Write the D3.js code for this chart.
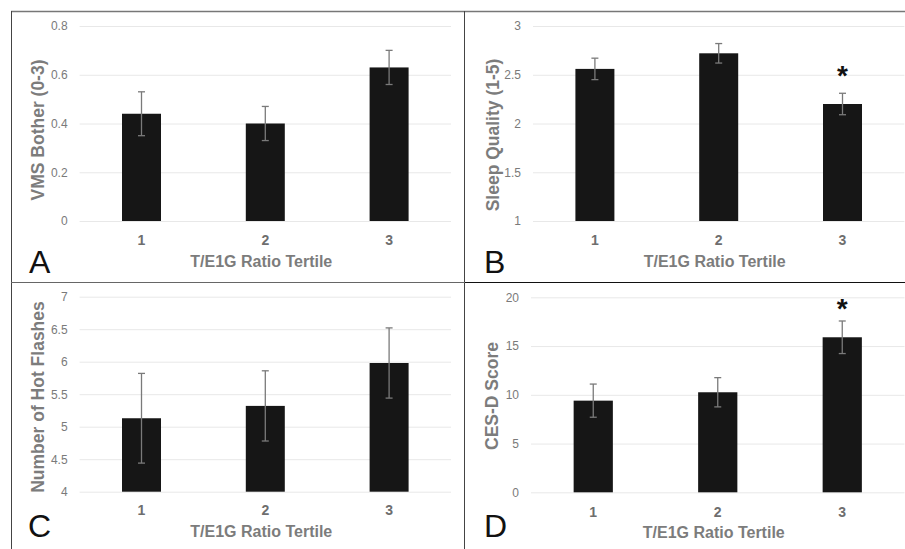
<!DOCTYPE html>
<html>
<head>
<meta charset="utf-8">
<script src="https://cdn.jsdelivr.net/npm/d3@7"></script>
<style>
  body { margin: 0; background: #fff; }
</style>
</head>
<body>
<div id="fig"></div>
<script>
"use strict";

// tertile categories
var tertiles = ["1", "2", "3"];

// A: VMS bother
var vmsMean = [0.44, 0.40, 0.63];
var vmsErr = [0.09, 0.07, 0.07];
var vmsTicks = [0, 0.2, 0.4, 0.6, 0.8];

// B: sleep quality
var sleepMean = [2.56, 2.72, 2.20];
var sleepErr = [0.11, 0.10, 0.11];
var sleepTicks = [1, 1.5, 2, 2.5, 3];
var sleepSig = [false, false, true];

// C: hot flashes
var hotMean = [5.13, 5.32, 5.98];
var hotErr = [0.69, 0.54, 0.54];
var hotTicks = [4, 4.5, 5, 5.5, 6, 6.5, 7];

// D: CES-D
var cesdMean = [9.4, 10.26, 15.9];
var cesdErr = [1.7, 1.5, 1.67];
var cesdTicks = [0, 5, 10, 15, 20];
var cesdSig = [false, false, true];

var font = "'Liberation Sans', Arial, Helvetica, sans-serif";

var svg = d3.select("#fig").append("svg")
    .attr("width", 905)
    .attr("height", 549);

// frame lines between panels
svg.append("line").attr("x1", 11).attr("x2", 905).attr("y1", 11.5).attr("y2", 11.5)
    .attr("stroke", "#777").attr("stroke-width", 1.5);
svg.append("line").attr("x1", 11.5).attr("x2", 11.5).attr("y1", 11).attr("y2", 549)
    .attr("stroke", "#444").attr("stroke-width", 1);
svg.append("line").attr("x1", 464.5).attr("x2", 464.5).attr("y1", 11).attr("y2", 549)
    .attr("stroke", "#444").attr("stroke-width", 1);
svg.append("line").attr("x1", 11).attr("x2", 465).attr("y1", 282.5).attr("y2", 282.5)
    .attr("stroke", "#666").attr("stroke-width", 1);
svg.append("line").attr("x1", 465).attr("x2", 905).attr("y1", 282.5).attr("y2", 282.5)
    .attr("stroke", "#111").attr("stroke-width", 1);

function drawPanel(cfg) {
    var g = svg.append("g");

    var x = d3.scaleBand().domain(tertiles)
        .range([cfg.x0, cfg.x1])
        .paddingInner(0.685).paddingOuter(0.3425);
    var y = d3.scaleLinear().domain([cfg.ticks[0], cfg.ticks[cfg.ticks.length - 1]])
        .range([cfg.y1, cfg.y0]);

    // gridlines + y tick labels
    g.append("g")
        .attr("transform", "translate(" + cfg.x0 + ",0)")
        .call(d3.axisLeft(y).tickValues(cfg.ticks).tickFormat(d3.format("~g"))
            .tickSizeInner(-(cfg.x1 - cfg.x0)).tickSizeOuter(0).tickPadding(12))
        .call(function (a) { a.select(".domain").remove(); })
        .call(function (a) { a.selectAll("line").attr("stroke", "#e8e8e8"); })
        .call(function (a) {
            a.selectAll("text").attr("fill", "#7a7a7a")
                .style("font-size", "12px").style("font-family", font);
        });

    // x tick labels
    g.append("g")
        .attr("transform", "translate(0," + cfg.y1 + ")")
        .call(d3.axisBottom(x).tickSize(0).tickPadding(cfg.tickBase - cfg.y1 - 10))
        .call(function (a) { a.select(".domain").remove(); })
        .call(function (a) {
            a.selectAll("text").attr("fill", "#6e6e6e")
                .style("font-size", "14px").style("font-weight", "bold").style("font-family", font);
        });

    var data = tertiles.map(function (t, i) {
        return { t: t, v: cfg.mean[i], e: cfg.err[i], sig: cfg.sig ? cfg.sig[i] : false };
    });

    // bars
    g.selectAll(".bar")
        .data(data)
        .enter().append("rect")
        .attr("class", "bar")
        .attr("x", function (d) { return x(d.t); })
        .attr("y", function (d) { return y(d.v); })
        .attr("width", x.bandwidth())
        .attr("height", function (d) { return y(cfg.ticks[0]) - y(d.v); })
        .attr("fill", "#161616");

    // error bars
    var eb = g.selectAll(".err").data(data).enter().append("g").attr("class", "err")
        .attr("stroke", "#7a7a7a").attr("stroke-width", 1.3);
    var cx = function (d) { return x(d.t) + x.bandwidth() / 2; };
    eb.append("line")
        .attr("x1", cx).attr("x2", cx)
        .attr("y1", function (d) { return y(d.v + d.e); })
        .attr("y2", function (d) { return y(d.v - d.e); });
    eb.append("line")
        .attr("x1", function (d) { return cx(d) - 3.5; }).attr("x2", function (d) { return cx(d) + 3.5; })
        .attr("y1", function (d) { return y(d.v + d.e); })
        .attr("y2", function (d) { return y(d.v + d.e); });
    eb.append("line")
        .attr("x1", function (d) { return cx(d) - 3.5; }).attr("x2", function (d) { return cx(d) + 3.5; })
        .attr("y1", function (d) { return y(d.v - d.e); })
        .attr("y2", function (d) { return y(d.v - d.e); });

    // significance marks
    g.selectAll(".sig").data(data.filter(function (d) { return d.sig; }))
        .enter().append("text")
        .attr("x", cx)
        .attr("y", function (d) { return y(d.v) - 19; })
        .attr("text-anchor", "middle")
        .style("font-family", font).style("font-weight", "bold").style("font-size", "28px")
        .attr("fill", "#111")
        .text("*");

    // axis titles
    g.append("text")
        .attr("transform", "translate(" + cfg.yTitleX + "," + cfg.yTitleY + ") rotate(-90)")
        .attr("text-anchor", "middle")
        .attr("dominant-baseline", "central")
        .style("font-family", font).style("font-weight", "bold").style("font-size", "17.5px")
        .attr("fill", "#7c7c7c")
        .text(cfg.yTitle);

    g.append("text")
        .attr("x", (cfg.x0 + cfg.x1) / 2 - 4)
        .attr("y", cfg.titleBase)
        .attr("text-anchor", "middle")
        .style("font-family", font).style("font-weight", "bold").style("font-size", "16px")
        .attr("fill", "#7c7c7c")
        .text("T/E1G Ratio Tertile");

    // panel letter
    g.append("text")
        .attr("x", cfg.letterX)
        .attr("y", cfg.letterY)
        .style("font-family", font).style("font-size", "32px")
        .attr("fill", "#111")
        .text(cfg.letter);
}

drawPanel({ letter: "A", mean: vmsMean, err: vmsErr, ticks: vmsTicks,
    yTitle: "VMS Bother (0-3)",
    x0: 79.6, x1: 451, y0: 26, y1: 221, tickBase: 245, titleBase: 267,
    yTitleX: 38, yTitleY: 130, letterX: 29, letterY: 273 });

drawPanel({ letter: "B", mean: sleepMean, err: sleepErr, ticks: sleepTicks, sig: sleepSig,
    yTitle: "Sleep Quality (1-5)",
    x0: 533, x1: 904.4, y0: 26, y1: 221, tickBase: 245, titleBase: 267,
    yTitleX: 493, yTitleY: 135, letterX: 484, letterY: 273 });

drawPanel({ letter: "C", mean: hotMean, err: hotErr, ticks: hotTicks,
    yTitle: "Number of Hot Flashes",
    x0: 79.6, x1: 451, y0: 296.7, y1: 491.7, tickBase: 515, titleBase: 537,
    yTitleX: 38, yTitleY: 397, letterX: 28, letterY: 537 });

drawPanel({ letter: "D", mean: cesdMean, err: cesdErr, ticks: cesdTicks, sig: cesdSig,
    yTitle: "CES-D Score",
    x0: 531, x1: 904.5, y0: 297.3, y1: 492.3, tickBase: 517, titleBase: 538,
    yTitleX: 492, yTitleY: 396, letterX: 484, letterY: 537 });
</script>
</body>
</html>
